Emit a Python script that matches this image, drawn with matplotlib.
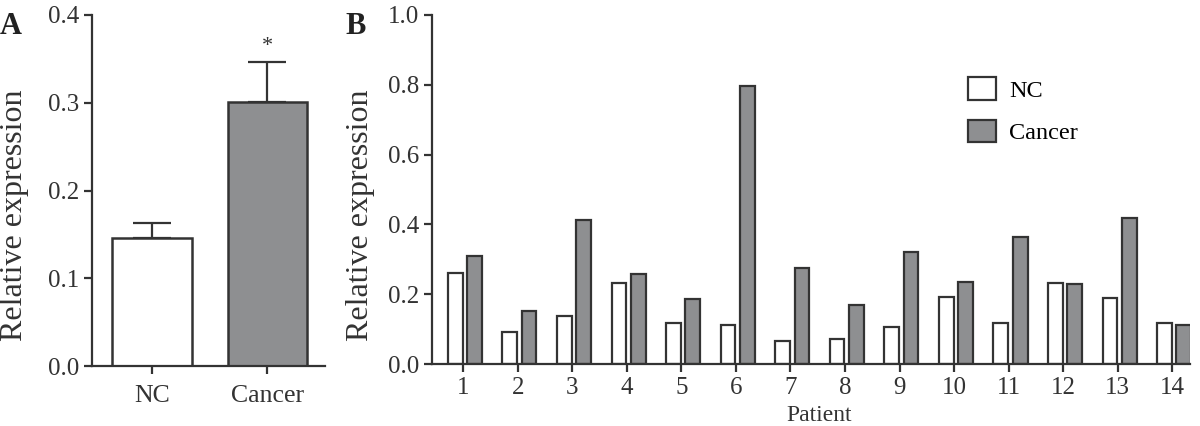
import numpy as np
import matplotlib
matplotlib.use('Agg')
import matplotlib.pyplot as plt

plt.rcParams['font.family'] = ['Liberation Serif', 'DejaVu Serif']

# panel A: mean +- error
groups = ['NC', 'Cancer']
group_means = [0.146, 0.301]
group_err = [0.017, 0.046]

# panel B: per patient
patients = [str(i) for i in range(1, 15)]
nc_vals = [0.262, 0.092, 0.138, 0.232, 0.118, 0.111, 0.066,
           0.072, 0.107, 0.193, 0.117, 0.233, 0.190, 0.118]
cancer_vals = [0.309, 0.151, 0.413, 0.258, 0.187, 0.797, 0.274,
               0.169, 0.322, 0.234, 0.363, 0.229, 0.418, 0.112]

edge = '#333333'
gray = '#8e8f91'
fs_tick = 18
fs_lab = 23

fig = plt.figure(figsize=(12, 4.26), dpi=100)
axA = fig.add_axes([0.0767, 0.1408, 0.1942, 0.824])
axB = fig.add_axes([0.36, 0.1455, 0.632, 0.8193])

for ax in (axA, axB):
    ax.spines['top'].set_visible(False)
    ax.spines['right'].set_visible(False)
    for s in ('left', 'bottom'):
        ax.spines[s].set_linewidth(1.6)
        ax.spines[s].set_color(edge)
    ax.tick_params(width=1.6, length=6, color=edge, labelsize=fs_tick,
                   labelcolor='#333333')
    ax.set_ylabel('Relative expression', fontsize=fs_lab, color='#333333')

# A
xa = np.arange(len(groups))
axA.bar(xa, group_means, width=0.69, color=['white', gray],
        edgecolor=edge, linewidth=1.8, zorder=2)
axA.errorbar(xa, group_means, yerr=[[0, 0], group_err], fmt='none',
             ecolor=edge, elinewidth=1.6, capsize=14, capthick=1.6, zorder=1)
axA.text(1, group_means[1] + group_err[1] + 0.006, '*', ha='center',
         va='bottom', fontsize=16, color='#333333')
axA.set_xlim(-0.52, 1.5)
axA.set_ylim(0, 0.4)
axA.set_yticks([0.0, 0.1, 0.2, 0.3, 0.4])
axA.set_yticklabels(['0.0', '0.1', '0.2', '0.3', '0.4'])
axA.set_xticks(xa)
axA.set_xticklabels(groups)
axA.tick_params(axis='x', labelsize=18.5, pad=8)
axA.yaxis.set_label_coords(-0.27, 0.43)

# B
xb = np.arange(1, len(patients) + 1)
w = 0.27
axB.bar(xb - 0.145, nc_vals, width=w, color='white', edgecolor=edge,
        linewidth=1.6, label='NC')
axB.bar(xb + 0.21, cancer_vals, width=w, color=gray, edgecolor=edge,
        linewidth=1.6, label='Cancer')
axB.set_xlim(0.43, 14.33)
axB.set_ylim(0, 1.0)
axB.set_yticks([0.0, 0.2, 0.4, 0.6, 0.8, 1.0])
axB.set_yticklabels(['0.0', '0.2', '0.4', '0.6', '0.8', '1.0'])
axB.set_xticks(xb)
axB.set_xticklabels(patients)
axB.set_xlabel('Patient', fontsize=17, color='#333333')
axB.xaxis.set_label_coords(0.51, -0.117)
axB.yaxis.set_label_coords(-0.075, 0.425)
axB.legend(loc='upper left', bbox_to_anchor=(0.678, 0.885), frameon=False,
           fontsize=17.5, handlelength=1.15, handleheight=1.05,
           labelspacing=0.75, handletextpad=0.55)

fig.text(0.0, 0.92, 'A', fontsize=22, fontweight='bold', color='#222222')
fig.text(0.288, 0.92, 'B', fontsize=22, fontweight='bold', color='#222222')

fig.savefig('out.png', dpi=100)
